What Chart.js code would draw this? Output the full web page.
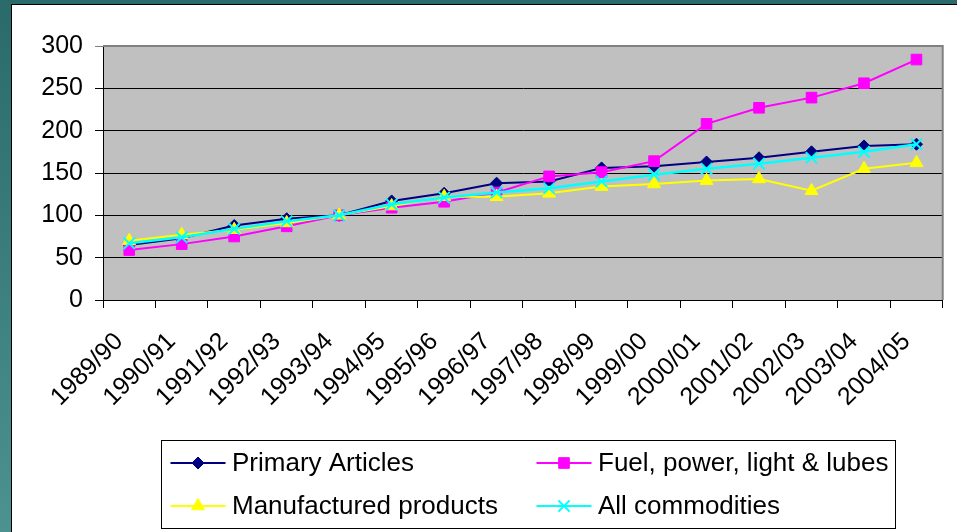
<!DOCTYPE html>
<html><head><meta charset="utf-8">
<script src="https://cdn.jsdelivr.net/npm/chart.js@4"></script>
<style>
html,body{margin:0;padding:0;width:957px;height:532px;overflow:hidden;background:linear-gradient(to bottom,#2a6a6a,#4c9290);}
#frame{position:absolute;left:11px;top:4px;width:946px;height:528px;background:#fff;border-left:1px solid #000;border-top:1px solid #000;box-sizing:border-box;}
#wrap{position:absolute;left:0;top:0;width:945px;height:527px;}
</style></head><body>
<div id="frame"><div id="wrap"><canvas id="c"></canvas></div></div>
<script>
const categories = ['1989/90','1990/91','1991/92','1992/93','1993/94','1994/95','1995/96','1996/97','1997/98','1998/99','1999/00','2000/01','2001/02','2002/03','2003/04','2004/05'];
const primaryArticles = [65,73,88,96,100,117,126,138,140,156,158,163,168,175,182,184];
const fuelPower = [59,66,75,87,100,109,116,127,146,151,164,208,227,239,256,284];
const manufactured = [70,77,83,91,100,111,122,122,126,134,137,141,143,129,155,162];
const allCommodities = [67,74,84,93,100,113,121,127,132,140,148,155,161,168,175,184];
const yTicks = [0,50,100,150,200,250,300];

const FONT = "'Liberation Sans', Arial, sans-serif";

const plotBg = {
  id:'plotBg',
  beforeDraw(chart){
    const {ctx, chartArea:a} = chart;
    ctx.save(); ctx.fillStyle='#c0c0c0';
    ctx.fillRect(a.left,a.top,a.right-a.left,a.bottom-a.top);
    ctx.restore();
  },
  beforeDatasetsDraw(chart){
    const {ctx, chartArea:a} = chart;
    ctx.save(); ctx.strokeStyle='#808080'; ctx.lineWidth=2;
    ctx.beginPath(); ctx.moveTo(a.left,a.top); ctx.lineTo(a.right,a.top); ctx.lineTo(a.right,a.bottom); ctx.stroke();
    ctx.restore();
  }
};

const boxLegend = {
  id:'boxLegend',
  afterDraw(chart){
    const ctx = chart.ctx;
    ctx.save();
    ctx.strokeStyle='#000'; ctx.lineWidth=1;
    ctx.strokeRect(149.5,435.5,734,88);
    const colX = [158.5, 524.5];
    const rowY = [458, 501];
    chart.data.datasets.forEach((ds,i)=>{
      const x0 = colX[i%2], y = rowY[Math.floor(i/2)];
      ctx.strokeStyle = ds.borderColor; ctx.lineWidth = 2;
      ctx.beginPath(); ctx.moveTo(x0,y); ctx.lineTo(x0+55,y); ctx.stroke();
      ctx.fillStyle = ds.pointBackgroundColor; ctx.strokeStyle = ds.pointBorderColor;
      ctx.lineWidth = ds.pointBorderWidth;
      Chart.helpers.drawPoint(ctx,{pointStyle:ds.pointStyle,radius:ds.pointRadius,rotation:0,borderWidth:ds.pointBorderWidth},x0+27.5,y);
      ctx.fillStyle='#000'; ctx.font = '26px '+FONT; ctx.textBaseline='middle'; ctx.textAlign='left';
      ctx.fillText(ds.label, x0+61.5, y+1);
    });
    ctx.restore();
  }
};

function series(label,data,color,style,radius,order,bw,lw){
  return {label,data,borderColor:color,backgroundColor:color,borderWidth:lw,
    pointStyle:style,pointRadius:radius,pointHoverRadius:radius,pointBackgroundColor:color,
    pointBorderColor:color,pointBorderWidth:bw,tension:0,fill:false,order};
}

new Chart(document.getElementById('c'),{
  type:'line',
  data:{labels:categories,datasets:[
    series('Primary Articles',primaryArticles,'#000080','rectRot',6,4,1,2),
    series('Fuel, power, light & lubes',fuelPower,'#ff00ff','rect',7.5,3,1,2),
    series('Manufactured products',manufactured,'#ffff00','triangle',7.5,2,1,2),
    series('All commodities',allCommodities,'#00ffff','crossRot',8,1,2,2.5)
  ]},
  options:{
    responsive:true, maintainAspectRatio:false, animation:false,
    layout:{padding:{top:41,right:2,bottom:107,left:0}},
    plugins:{legend:{display:false},tooltip:{enabled:false}},
    scales:{
      x:{offset:true,
        grid:{offset:true,drawOnChartArea:false,tickLength:8,color:'#000'},
        border:{color:'#000',width:1},
        ticks:{autoSkip:false,maxRotation:45,minRotation:45,color:'#000',font:{family:FONT,size:25},padding:19,labelOffset:-10},
        afterFit(s){s.height=125;}
      },
      y:{min:0,max:300,
        afterBuildTicks(s){s.ticks=yTicks.map(v=>({value:v}));},
        grid:{color:(c)=>c.tick && c.tick.value===300?'#808080':'#000',tickLength:8},
        border:{color:'#000',width:1},
        ticks:{color:'#000',font:{family:FONT,size:25},padding:12},
        afterFit(s){s.width=91;}
      }
    }
  },
  plugins:[plotBg,boxLegend]
});
</script>
</body></html>
